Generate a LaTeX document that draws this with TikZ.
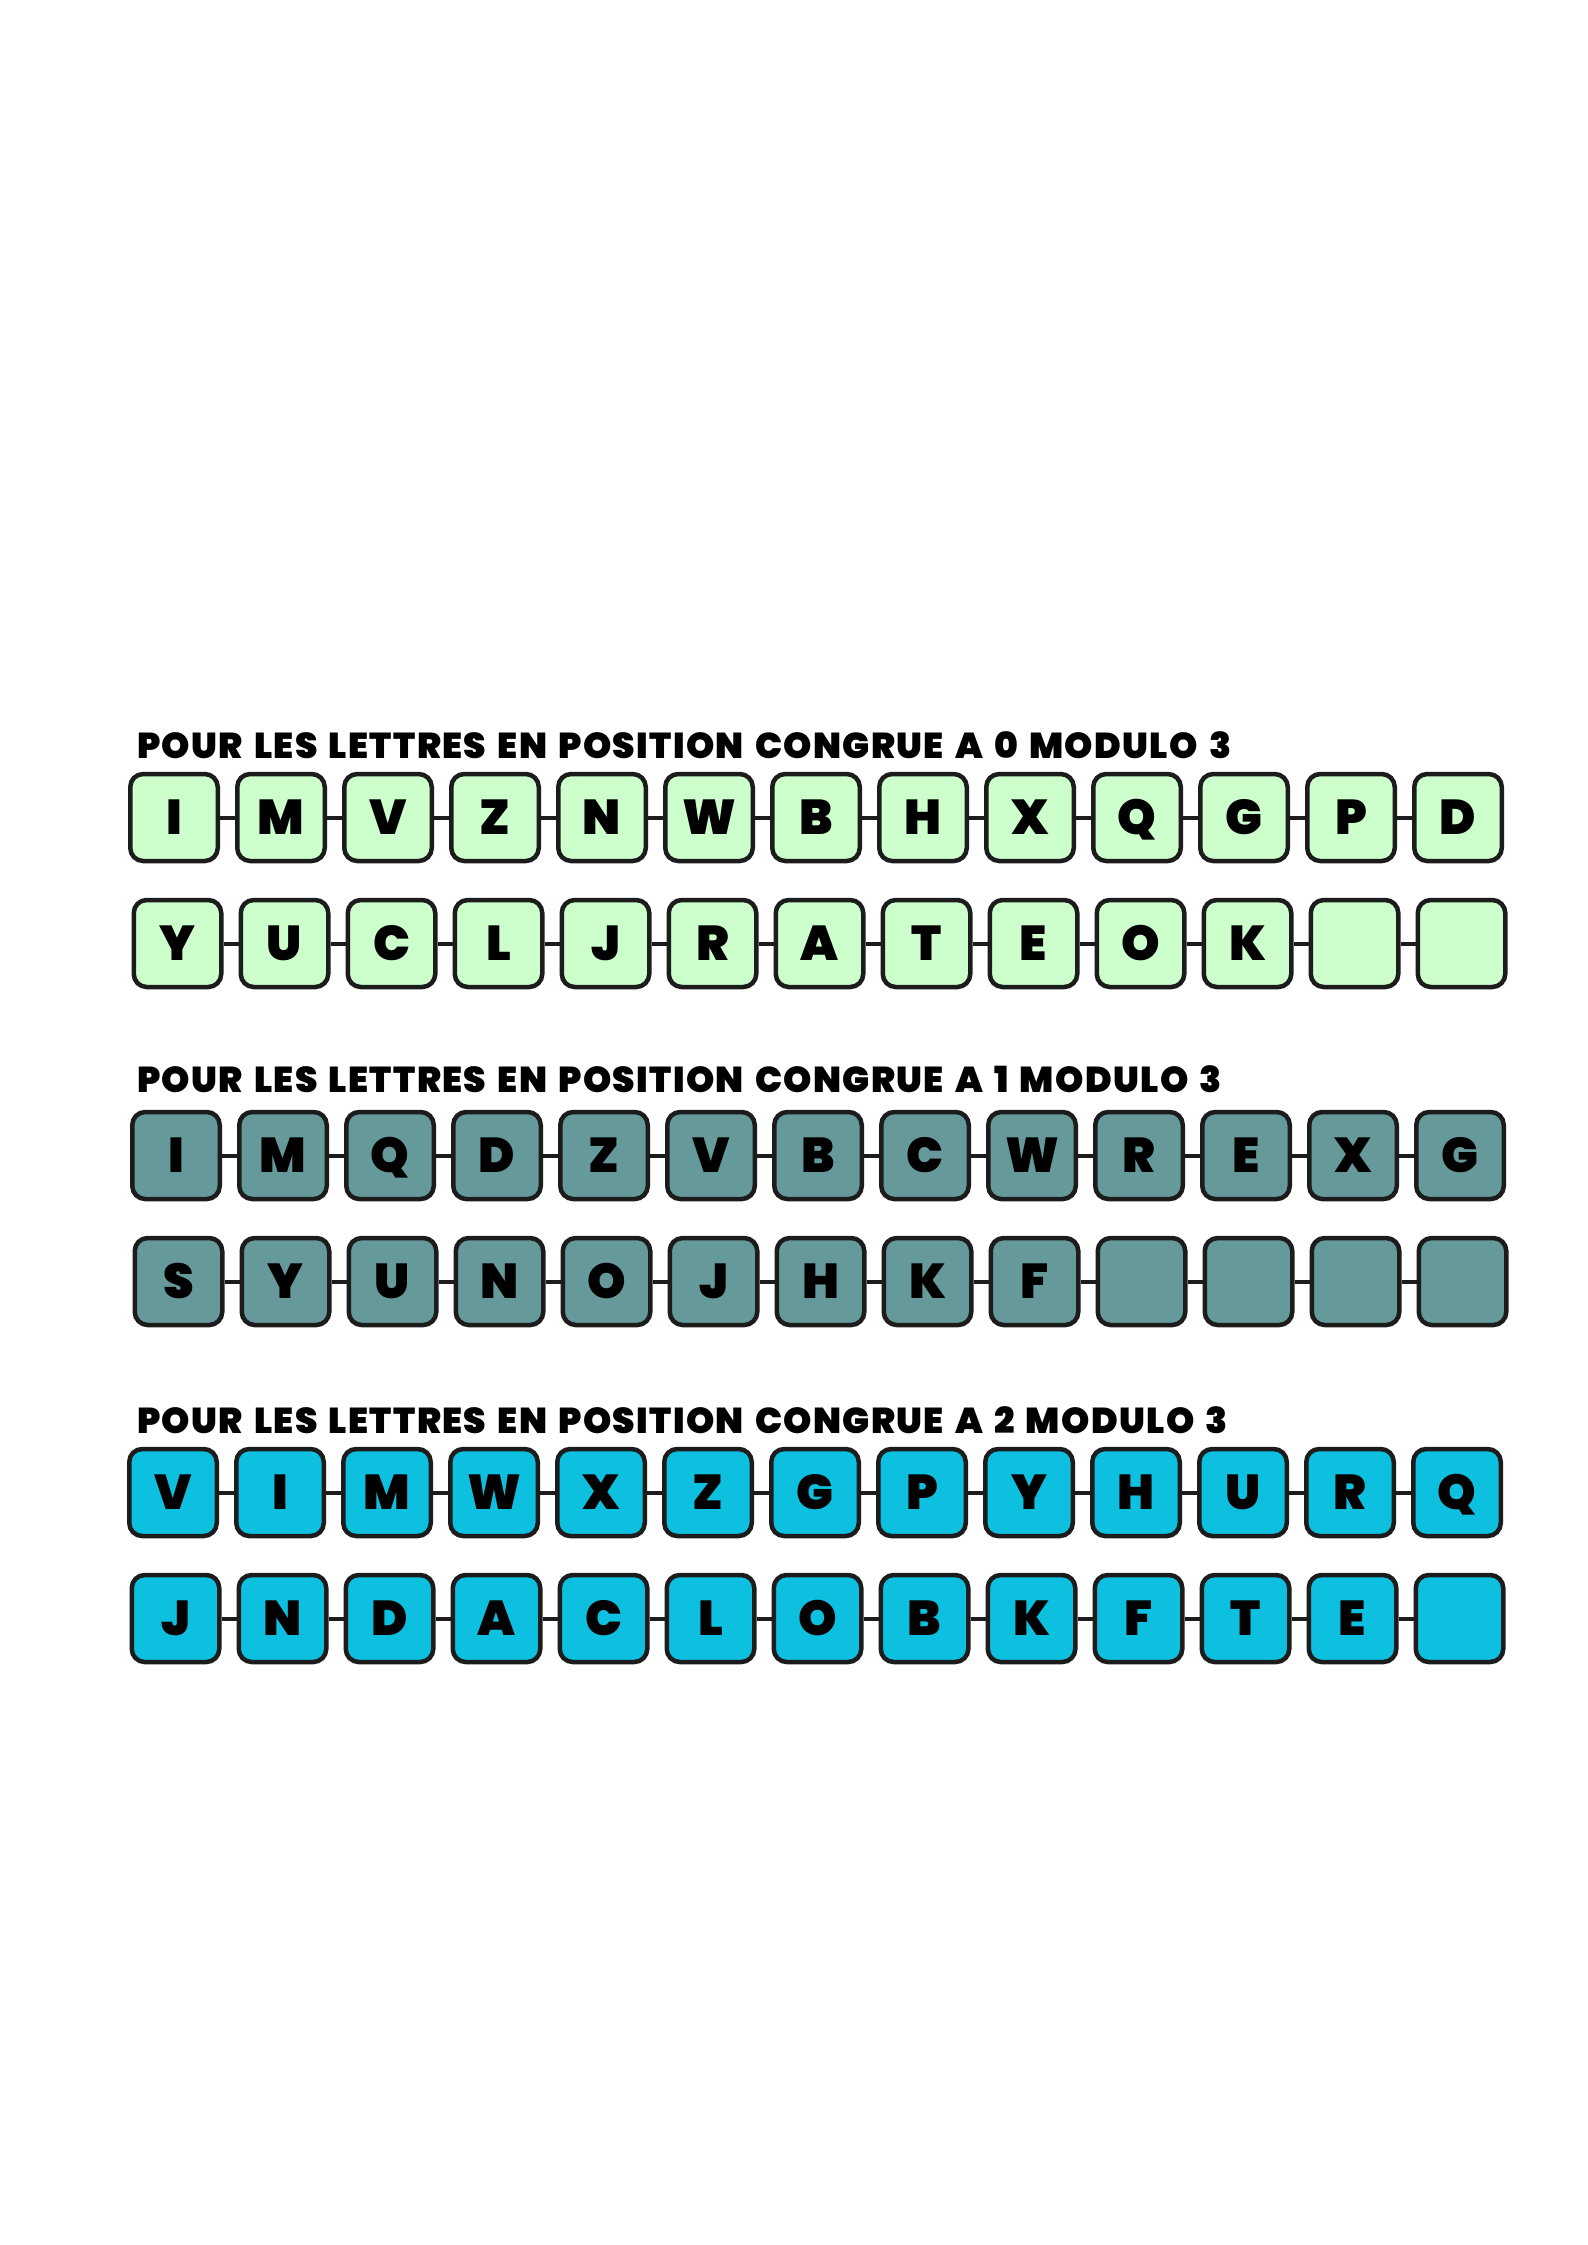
\documentclass[tikz,border=0pt]{standalone}
\usepackage{fontspec}
\newfontfamily\disp{Poppins Black}
\newfontfamily\titlefont{Poppins Black}[LetterSpace=3.8, WordSpace=1.5]
\definecolor{gA}{HTML}{CCFFCC}
\definecolor{gB}{HTML}{669999}
\definecolor{gC}{HTML}{0DC0E0}
\definecolor{ink}{HTML}{1C1C1C}
\newcommand\mkrow[5]{%
  \foreach \L [count=\i] in {#5} {\node[box, fill=#4] (#1-\i) at ({#2+107*(\i-1)},#3) {\L};}
  \foreach \i [evaluate=\i as \j using int(\i+1)] in {1,...,12} {\draw[link] (#1-\i) -- (#1-\j);}
}
\begin{document}
\begin{tikzpicture}[x=1pt,y=-1pt,
  box/.style={draw=ink, line width=4.5pt, rounded corners=13pt, minimum width=87.5pt,
    minimum height=87pt, inner sep=0pt, text height=34pt, text depth=0pt,
    font=\disp\fontsize{49}{49}\selectfont},
  link/.style={draw=ink, line width=4pt},
  title/.style={anchor=base west, inner sep=0pt, font=\titlefont\fontsize{36}{36}\selectfont}]
\useasboundingbox (0,0) rectangle (1587,2245);
\fill[white] (0,0) rectangle (1587,2245);

\node[title] (t1) at (137,758) {POUR LES LETTRES EN POSITION CONGRUE A 0 MODULO 3};
\mkrow{a}{174}{817.5}{gA}{I,M,V,Z,N,W,B,H,X,Q,G,P,D}
\mkrow{b}{177.5}{943.5}{gA}{Y,U,C,L,J,R,A,T,E,O,K,{},{}}

\node[title] (t2) at (137,1092) {POUR LES LETTRES EN POSITION CONGRUE A 1 MODULO 3};
\mkrow{c}{176}{1155.5}{gB}{I,M,Q,D,Z,V,B,C,W,R,E,X,G}
\mkrow{d}{178.5}{1281.5}{gB}{S,Y,U,N,O,J,H,K,F,{},{},{},{}}

\node[title] (t3) at (137,1433) {POUR LES LETTRES EN POSITION CONGRUE A 2 MODULO 3};
\mkrow{e}{173}{1492.5}{gC}{V,I,M,W,X,Z,G,P,Y,H,U,R,Q}
\mkrow{f}{175.5}{1618.5}{gC}{J,N,D,A,C,L,O,B,K,F,T,E,{}}
\end{tikzpicture}
\end{document}
